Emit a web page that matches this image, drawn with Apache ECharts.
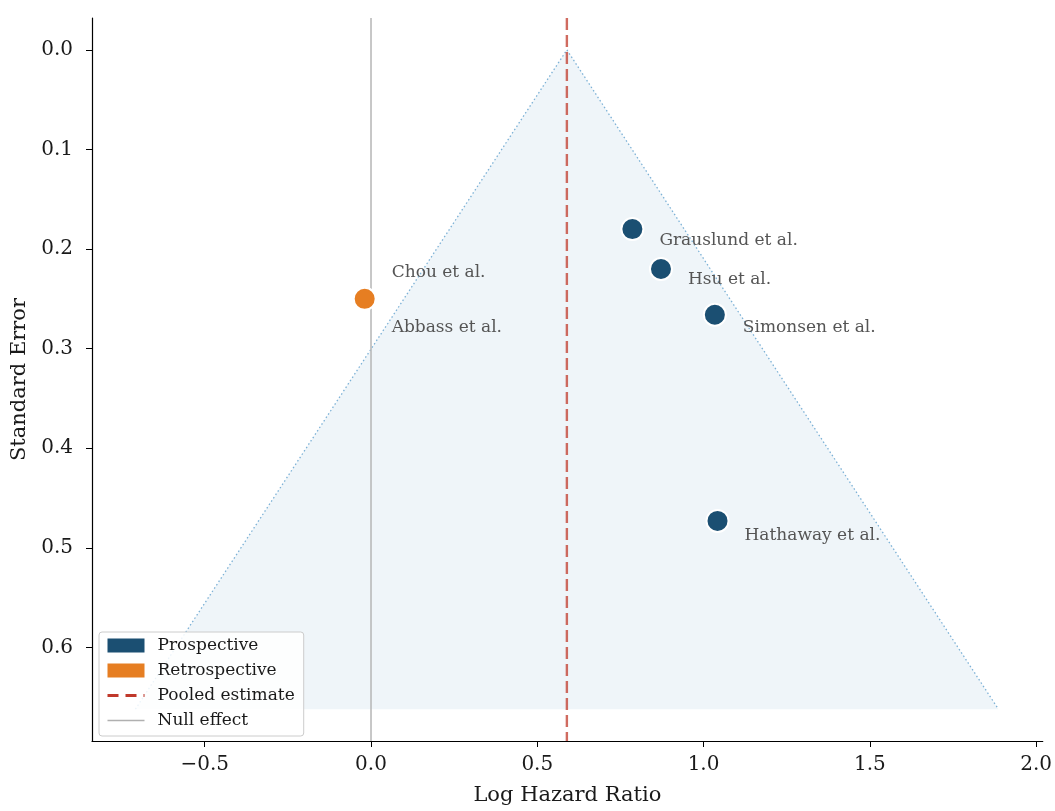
<!DOCTYPE html>
<html>
<head>
<meta charset="utf-8">
<script src="https://cdn.jsdelivr.net/npm/echarts@6/dist/echarts.min.js"></script>
<style>html,body{margin:0;padding:0;background:#fff}#chart{width:1055px;height:811px}</style>
</head>
<body>
<div id="chart"></div>
<script>
// ---- data ----
const prospectiveNames = ['Grauslund et al.', 'Hsu et al.', 'Simonsen et al.', 'Hathaway et al.'];
const prospectiveLogHR = [0.786, 0.872, 1.034, 1.042];
const prospectiveSE    = [0.180, 0.220, 0.266, 0.473];
const retrospectiveNames = ['Chou et al.', 'Abbass et al.'];
const retrospectiveLogHR = [-0.019, -0.019];
const retrospectiveSE    = [0.250, 0.250];
const pooledEstimate = 0.589;
const nullEffect = 0;
const funnelSEMax = 0.662;
const funnelZ = 1.96;
const xTicks = [-0.5, 0.0, 0.5, 1.0, 1.5, 2.0];
const yTicks = [0.0, 0.1, 0.2, 0.3, 0.4, 0.5, 0.6];
const xRange = [-0.839, 2.020];
const yRange = [-0.032, 0.694];

// ---- styles ----
const FONT = 'DejaVu Serif';
const labelOffsets = {
  'Grauslund et al.': [27, 11],
  'Hsu et al.': [27, 11],
  'Simonsen et al.': [28, 13],
  'Hathaway et al.': [27, 15],
  'Chou et al.': [27, -26],
  'Abbass et al.': [27, 29]
};
function pts(names, xs, ys) {
  return names.map((n, i) => ({
    name: n, value: [xs[i], ys[i]],
    label: { offset: labelOffsets[n] }
  }));
}
const fmt = v => (v < 0 ? '\u2212' : '') + Math.abs(v).toFixed(1);
const hidden = { color: 'rgba(0,0,0,0)', borderColor: 'rgba(0,0,0,0)', borderWidth: 0, opacity: 0 };

const chart = echarts.init(document.getElementById('chart'), null, { renderer: 'canvas' });
const scatterLabel = {
  show: true, position: 'inside', align: 'left', verticalAlign: 'middle',
  formatter: '{b}', color: '#555', fontFamily: FONT, fontSize: 17
};
chart.setOption({
  animation: false,
  backgroundColor: '#fff',
  grid: { left: 92, right: 12, top: 18, bottom: 67 },
  xAxis: {
    type: 'value', min: xRange[0], max: xRange[1],
    name: 'Log Hazard Ratio', nameLocation: 'middle', nameGap: 44,
    nameTextStyle: { fontFamily: FONT, fontSize: 21, color: '#1a1a1a' },
    splitLine: { show: false },
    axisLine: { show: true, onZero: false, lineStyle: { color: '#000', width: 1.2 } },
    axisTick: { show: true, length: 6, customValues: xTicks, lineStyle: { color: '#000' } },
    axisLabel: { customValues: xTicks, formatter: fmt, fontFamily: FONT, fontSize: 20, color: '#1a1a1a', margin: 14 }
  },
  yAxis: {
    type: 'value', inverse: true, min: yRange[0], max: yRange[1],
    name: 'Standard Error', nameLocation: 'middle', nameGap: 60,
    nameTextStyle: { fontFamily: FONT, fontSize: 21, color: '#1a1a1a' },
    splitLine: { show: false },
    axisLine: { show: true, onZero: false, lineStyle: { color: '#000', width: 1.2 } },
    axisTick: { show: true, length: 6, customValues: yTicks, lineStyle: { color: '#000' } },
    axisLabel: { customValues: yTicks, formatter: v => v.toFixed(1), fontFamily: FONT, fontSize: 20, color: '#1a1a1a', margin: 19 }
  },
  legend: {
    orient: 'vertical', left: 99, top: 632,
    padding: [5, 9, 7, 7], itemGap: 8, itemWidth: 37, itemHeight: 14,
    backgroundColor: 'rgba(255,255,255,0.85)', borderColor: '#cccccc', borderWidth: 1, borderRadius: 3,
    textStyle: { fontFamily: FONT, fontSize: 17, lineHeight: 17, color: '#1a1a1a', padding: [0, 0, 0, 8] },
    data: [
      { name: 'Prospective', icon: 'rect', itemStyle: { borderWidth: 0 } },
      { name: 'Retrospective', icon: 'rect', itemStyle: { borderWidth: 0 } },
      { name: 'Pooled estimate', itemStyle: hidden, lineStyle: { color: '#c0392b', width: 3, type: [11, 7], opacity: 1 } },
      { name: 'Null effect', itemStyle: hidden, lineStyle: { color: '#b0b0b0', width: 1.6, type: 'solid' } }
    ]
  },
  series: [
    {
      type: 'custom', name: 'funnel', z: 1, silent: true,
      data: [[pooledEstimate, 0]],
      renderItem: function (params, api) {
        const a = api.coord([pooledEstimate, 0]);
        const l = api.coord([pooledEstimate - funnelZ * funnelSEMax, funnelSEMax]);
        const r = api.coord([pooledEstimate + funnelZ * funnelSEMax, funnelSEMax]);
        return {
          type: 'group', children: [
            { type: 'polygon', shape: { points: [a, l, r] }, style: { fill: '#eff5f9' } },
            { type: 'polyline', shape: { points: [l, a, r] }, style: { fill: null, stroke: '#7cb1d6', lineWidth: 1.3, lineDash: [1.5, 2.5] } }
          ]
        };
      }
    },
    {
      type: 'line', name: 'Null effect', z: 2, symbol: 'none', silent: true,
      data: [[nullEffect, yRange[0]], [nullEffect, yRange[1]]],
      lineStyle: { color: '#b5b5b5', width: 1.5 }, itemStyle: { color: '#b5b5b5' }
    },
    {
      type: 'line', name: 'Pooled estimate', z: 3, symbol: 'none', silent: true,
      data: [[pooledEstimate, yRange[0]], [pooledEstimate, yRange[1]]],
      lineStyle: { color: 'rgba(192,57,43,0.75)', width: 2.4, type: [12, 5] }, itemStyle: { color: '#c0392b' }
    },
    {
      type: 'scatter', name: 'Retrospective', z: 5, symbolSize: 22,
      itemStyle: { color: '#e67e22', borderColor: '#fff', borderWidth: 2, opacity: 1 },
      label: scatterLabel,
      data: pts(retrospectiveNames, retrospectiveLogHR, retrospectiveSE)
    },
    {
      type: 'scatter', name: 'Prospective', z: 5, symbolSize: 22,
      itemStyle: { color: '#1b4f72', borderColor: '#fff', borderWidth: 2, opacity: 1 },
      label: scatterLabel,
      data: pts(prospectiveNames, prospectiveLogHR, prospectiveSE)
    }
  ]
});
</script>
</body>
</html>
